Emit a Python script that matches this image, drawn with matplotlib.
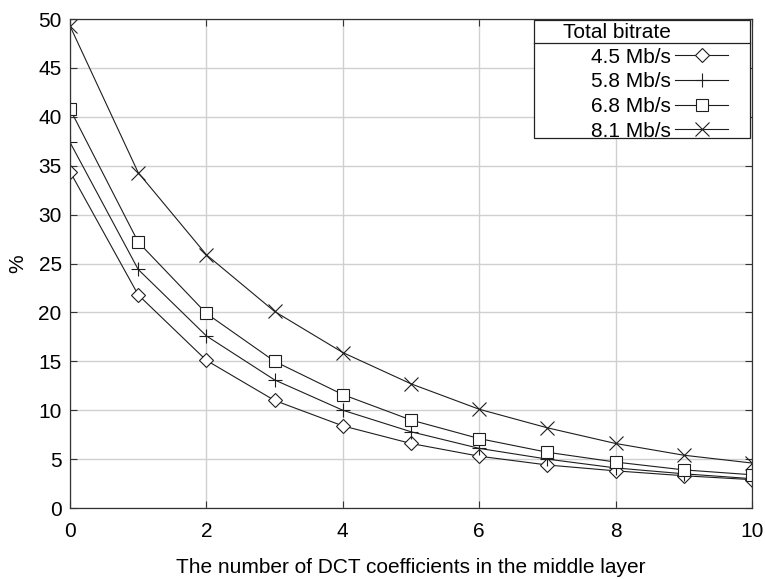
import matplotlib
matplotlib.use("Agg")
import matplotlib.pyplot as plt
from matplotlib.lines import Line2D
from matplotlib.patches import Rectangle

plt.rcParams['font.family'] = ['Liberation Sans', 'DejaVu Sans']

x = list(range(11))
s45 = [34.4, 21.8, 15.1, 11.0, 8.4, 6.6, 5.3, 4.4, 3.8, 3.3, 2.9]
s58 = [37.4, 24.4, 17.6, 13.1, 10.0, 7.8, 6.1, 5.0, 4.1, 3.5, 3.0]
s68 = [40.8, 27.2, 19.9, 15.0, 11.6, 9.0, 7.1, 5.7, 4.7, 3.9, 3.4]
s81 = [49.3, 34.3, 25.9, 20.1, 15.9, 12.7, 10.1, 8.2, 6.6, 5.4, 4.6]
labels = ['4.5 Mb/s', '5.8 Mb/s', '6.8 Mb/s', '8.1 Mb/s']
legend_title = 'Total bitrate'
markers = ['D', '+', 's', 'x']
msizes = [7.5, 10, 9, 10.5]
xlabel = 'The number of DCT coefficients in the middle layer'
ylabel = '%'

fig = plt.figure(figsize=(7.65, 5.79), dpi=100)
ax = fig.add_axes([0.0915, 0.1226, 0.8915, 0.8444])

handles = [Line2D([], [], color='none', label=legend_title)]
for ys, lab, m, ms in zip([s45, s58, s68, s81], labels, markers, msizes):
    h, = ax.plot(x, ys, color='#1e1e1e', lw=0.8, marker=m, ms=ms,
                 mfc='white' if m in ('D', 's') else 'none', mec='#1e1e1e', mew=0.8, label=lab)
    handles.append(h)

ax.set_xlim(0, 10)
ax.set_ylim(0, 50)
ax.set_xticks(range(0, 11, 2))
ax.set_yticks(range(0, 51, 5))
ax.grid(True, color='#d0d0d0', lw=1)
ax.set_axisbelow(True)
ax.tick_params(direction='in', top=True, right=True, labelsize=15, length=5, color='#333333')
ax.tick_params(axis='x', pad=10)
ax.tick_params(axis='y', pad=6)
for sp in ax.spines.values():
    sp.set_color('#333333')
    sp.set_linewidth(0.9)
ax.set_xlabel(xlabel, fontsize=15, labelpad=12)
ax.set_ylabel(ylabel, fontsize=15, labelpad=8)

# legend frame (drawn manually) and separator under the title row
frame = Rectangle((0.680, 0.757), 0.317, 0.241, transform=ax.transAxes,
                  facecolor='white', edgecolor='#222222', lw=0.9, zorder=4.5, clip_on=False)
ax.add_patch(frame)
ax.add_line(Line2D([0.680, 0.997], [0.951, 0.951], transform=ax.transAxes,
                   color='#222222', lw=0.9, zorder=4.6, clip_on=False))

leg = ax.legend(handles=handles, loc='upper right', bbox_to_anchor=(0.965, 0.992),
                markerfirst=False, fontsize=15, frameon=False,
                borderaxespad=0, handlelength=2.55,
                labelspacing=0.27, borderpad=0, handletextpad=0.2)
leg.set_zorder(5)

fig.savefig('out.png', dpi=100)
